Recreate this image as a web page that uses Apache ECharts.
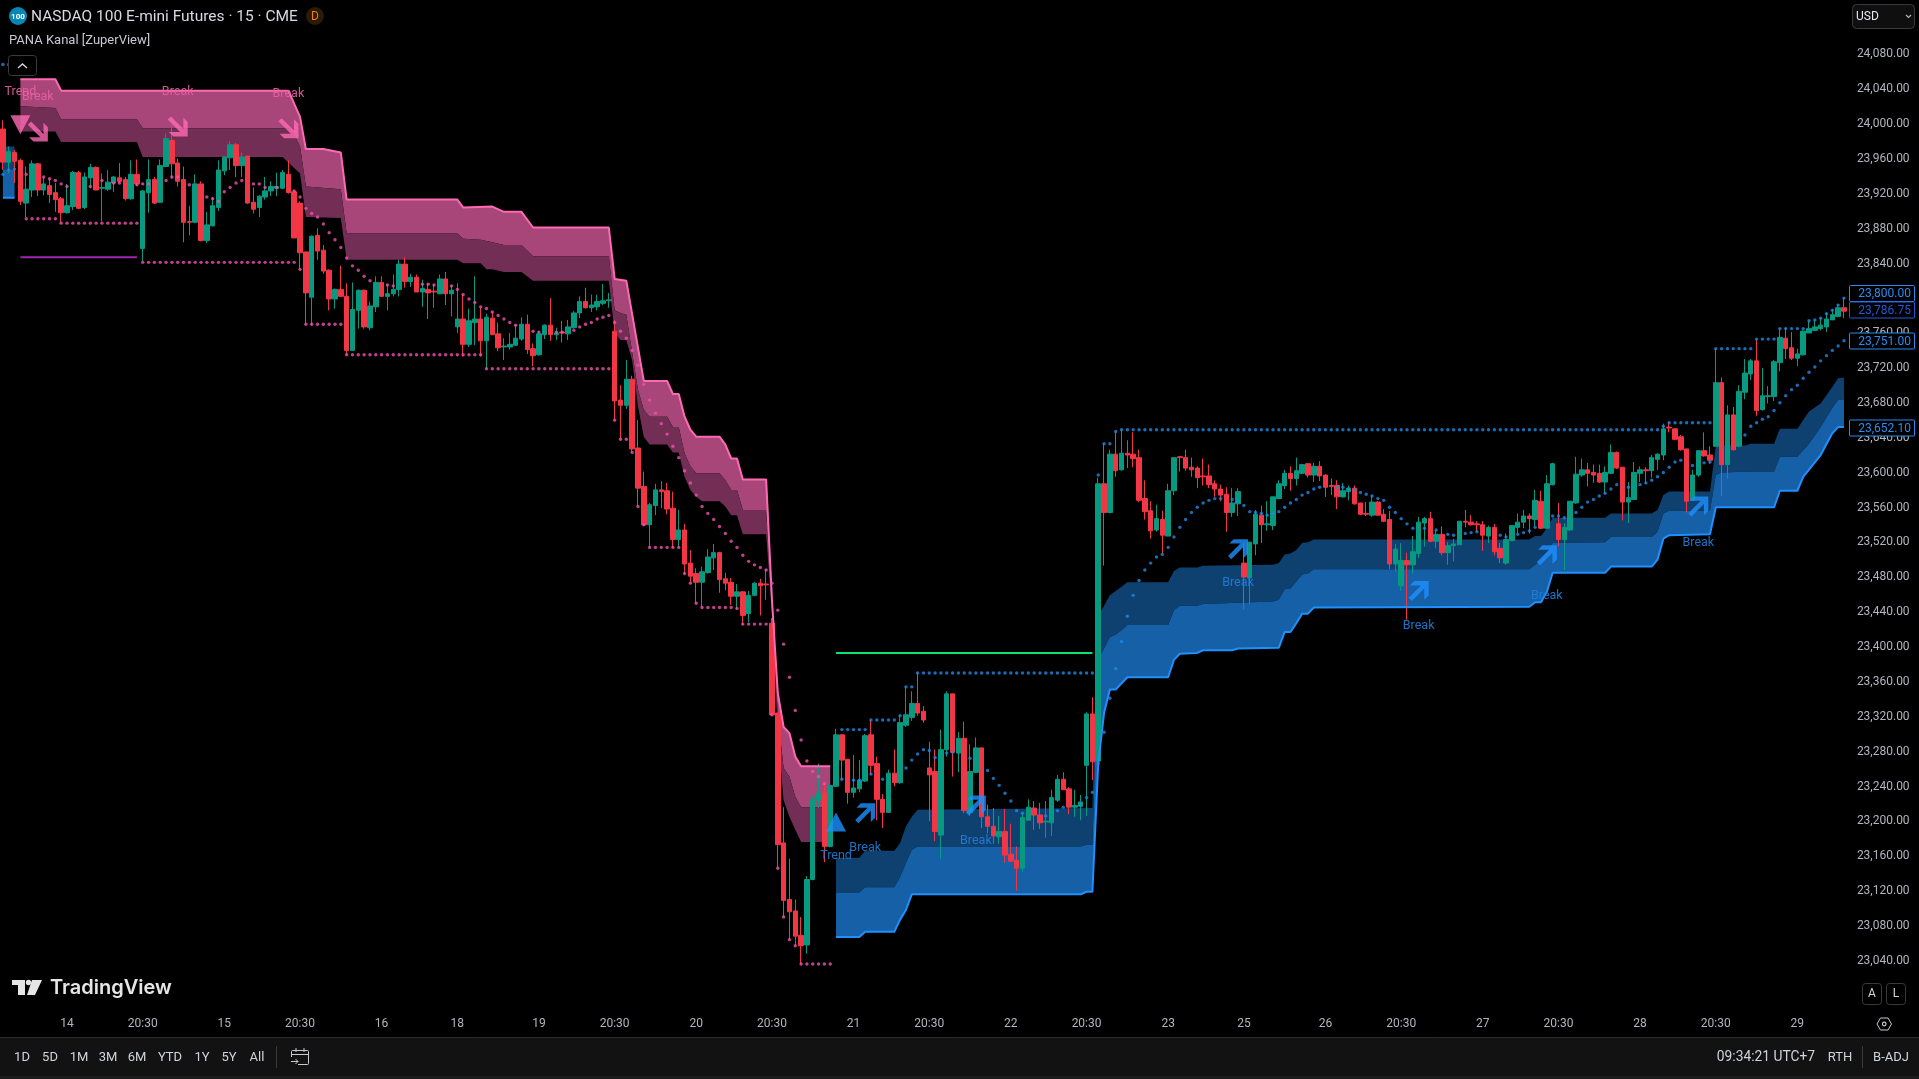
<!DOCTYPE html>
<html><head><meta charset="utf-8">
<style>html,body{margin:0;padding:0;background:#000;overflow:hidden}#c{width:1919px;height:1079px}</style>
<script src="https://cdn.jsdelivr.net/npm/echarts@6/dist/echarts.min.js"></script>
</head><body><div id="c"></div>
<script>
// ---- candle values (one per 15-minute bar) ----
const opens=[
23992,23954,23965,23956,23907,23922,23952,23922,23927,23919,
23912,23896,23903,23942,23902,23936,23948,23924,23923,23930,
23936,23934,23912,23940,23855,23919,23934,23908,23949,23979,
23953,23934,23886,23885,23929,23864,23881,23902,23944,23959,
23974,23950,23961,23908,23902,23914,23921,23924,23924,23940,
23920,23907,23851,23799,23870,23853,23830,23797,23808,23800,
23738,23784,23807,23764,23788,23816,23800,23803,23808,23837,
23817,23822,23805,23808,23806,23803,23820,23803,23765,23774,
23745,23770,23774,23749,23775,23757,23742,23742,23744,23751,
23768,23740,23733,23756,23767,23756,23759,23757,23764,23781,
23794,23787,23788,23792,23795,23760,23681,23675,23705,23626,
23582,23538,23560,23578,23577,23557,23521,23532,23494,23482,
23472,23483,23500,23506,23476,23472,23456,23461,23436,23457,
23471,23470,23425,23322,23173,23108,23095,23067,23056,23131,
23222,23230,23169,23238,23297,23269,23231,23235,23244,23297,
23264,23223,23208,23253,23242,23308,23317,23333,23324,23259,
23255,23182,23280,23344,23276,23293,23208,23254,23282,23203,
23192,23180,23186,23160,23153,23144,23199,23213,23205,23197,
23196,23222,23246,23235,23214,23215,23262,23321,23267,23585,
23552,23619,23601,23620,23619,23615,23568,23554,23532,23544,
23525,23577,23616,23615,23604,23603,23594,23594,23585,23579,
23573,23552,23562,23494,23477,23516,23549,23538,23537,23568,
23583,23597,23591,23597,23608,23595,23605,23595,23583,23583,
23570,23576,23580,23563,23551,23549,23564,23550,23544,23493,
23468,23497,23492,23505,23540,23545,23519,23527,23506,23514,
23515,23542,23541,23539,23538,23525,23535,23511,23494,23520,
23535,23541,23548,23544,23565,23534,23584,23539,23521,23532,
23563,23595,23601,23598,23597,23587,23597,23621,23604,23564,
23567,23597,23601,23600,23613,23618,23650,23648,23639,23625,
23566,23595,23623,23618,23628,23701,23607,23664,23628,23690,
23711,23726,23670,23685,23685,23724,23752,23741,23729,23733,
23758,23761,23763,23765,23773,23777,23787];
const closes=[
23954,23966,23955,23909,23923,23952,23922,23929,23917,23911,
23896,23904,23942,23901,23937,23948,23922,23925,23931,23937,
23932,23912,23940,23929,23921,23934,23907,23950,23981,23952,
23932,23885,23885,23929,23864,23882,23904,23945,23960,23974,
23950,23960,23907,23900,23915,23921,23926,23926,23942,23919,
23867,23850,23804,23869,23852,23829,23797,23808,23800,23738,
23785,23807,23765,23789,23816,23800,23803,23808,23837,23817,
23822,23805,23809,23804,23805,23820,23803,23807,23774,23745,
23772,23774,23749,23776,23756,23741,23743,23745,23752,23768,
23739,23732,23757,23767,23756,23758,23758,23765,23781,23794,
23787,23790,23794,23795,23796,23680,23675,23705,23625,23580,
23538,23561,23578,23576,23556,23521,23532,23493,23479,23472,
23484,23501,23506,23475,23471,23456,23461,23434,23457,23471,
23468,23469,23320,23171,23107,23094,23066,23055,23131,23223,
23230,23169,23239,23297,23268,23231,23236,23245,23296,23262,
23223,23208,23253,23242,23311,23320,23333,23322,23314,23251,
23186,23280,23344,23277,23293,23210,23255,23282,23203,23192,
23181,23186,23159,23152,23144,23202,23214,23205,23196,23198,
23225,23246,23234,23214,23216,23220,23321,23266,23585,23552,
23619,23600,23620,23618,23614,23566,23553,23531,23545,23526,
23577,23615,23615,23603,23601,23592,23593,23584,23579,23572,
23552,23563,23576,23478,23518,23550,23538,23539,23570,23585,
23597,23591,23600,23607,23595,23605,23594,23581,23582,23570,
23577,23580,23562,23550,23550,23564,23549,23542,23493,23510,
23497,23492,23507,23541,23545,23519,23527,23506,23514,23516,
23542,23541,23538,23538,23526,23535,23507,23500,23521,23537,
23541,23548,23545,23566,23534,23585,23608,23521,23535,23565,
23596,23601,23597,23595,23587,23598,23621,23603,23564,23569,
23598,23601,23600,23615,23619,23648,23649,23636,23624,23565,
23595,23623,23617,23612,23701,23607,23664,23624,23691,23712,
23726,23669,23686,23686,23725,23753,23740,23729,23734,23760,
23763,23765,23767,23774,23779,23787,23783];
const lows=[
23945,23941,23930,23905,23891,23914,23915,23916,23907,23897,
23884,23895,23899,23900,23900,23924,23922,23886,23921,23920,
23930,23910,23911,23927,23840,23896,23906,23907,23949,23935,
23926,23862,23870,23884,23863,23861,23880,23898,23939,23945,
23937,23937,23906,23895,23891,23911,23915,23915,23923,23918,
23867,23831,23768,23767,23842,23826,23784,23786,23799,23733,
23738,23763,23763,23761,23782,23800,23784,23800,23800,23810,
23811,23805,23788,23774,23787,23803,23790,23777,23758,23731,
23742,23744,23731,23717,23756,23737,23727,23739,23743,23749,
23734,23720,23732,23751,23749,23750,23747,23750,23763,23775,
23786,23782,23784,23790,23787,23658,23636,23671,23621,23559,
23537,23512,23549,23557,23550,23512,23512,23482,23471,23448,
23443,23482,23486,23460,23463,23446,23441,23423,23426,23456,
23434,23452,23319,23144,23088,23062,23055,23034,23046,23130,
23213,23151,23168,23237,23245,23218,23225,23231,23243,23251,
23199,23190,23208,23238,23241,23306,23313,23319,23311,23198,
23175,23155,23272,23249,23254,23207,23204,23253,23190,23184,
23172,23172,23150,23151,23118,23140,23199,23188,23189,23179,
23181,23220,23234,23206,23203,23199,23204,23245,23267,23491,
23551,23593,23600,23603,23604,23564,23544,23522,23530,23505,
23525,23572,23599,23600,23593,23580,23583,23580,23570,23565,
23530,23547,23548,23441,23447,23503,23517,23531,23532,23567,
23579,23577,23583,23596,23592,23587,23588,23570,23572,23556,
23569,23566,23561,23549,23548,23547,23549,23541,23487,23484,
23462,23429,23482,23500,23513,23518,23511,23503,23492,23496,
23515,23535,23537,23530,23508,23517,23503,23494,23492,23519,
23528,23534,23528,23536,23533,23534,23583,23513,23486,23531,
23562,23593,23582,23586,23586,23574,23596,23602,23543,23540,
23567,23587,23585,23592,23601,23612,23644,23635,23623,23552,
23566,23593,23616,23608,23628,23571,23591,23623,23627,23682,
23704,23663,23669,23677,23680,23714,23728,23727,23720,23732,
23758,23760,23761,23759,23773,23776,23775];
const highs=[
24002,23972,23968,23958,23949,23956,23953,23937,23935,23930,
23914,23929,23944,23944,23942,23952,23949,23941,23945,23938,
23953,23937,23956,23957,23922,23957,23937,23957,23987,24006,
23958,23949,23904,23940,23932,23897,23914,23956,23960,23978,
23976,23965,23961,23925,23916,23937,23932,23942,23945,23956,
23922,23909,23851,23870,23878,23859,23831,23809,23835,23815,
23816,23808,23808,23794,23823,23823,23813,23825,23842,23845,
23826,23825,23819,23815,23814,23825,23828,23812,23815,23803,
23786,23823,23787,23780,23782,23770,23752,23758,23768,23776,
23779,23746,23760,23768,23798,23764,23772,23773,23783,23800,
23810,23802,23802,23814,23804,23773,23698,23727,23709,23658,
23599,23563,23585,23588,23586,23576,23555,23539,23509,23488,
23490,23510,23516,23507,23483,23477,23470,23462,23462,23472,
23476,23487,23431,23322,23214,23155,23108,23088,23135,23227,
23264,23242,23242,23304,23297,23269,23274,23268,23298,23314,
23272,23229,23257,23280,23320,23352,23347,23368,23330,23289,
23280,23303,23347,23344,23300,23312,23286,23294,23282,23217,
23213,23204,23212,23195,23169,23208,23223,23221,23219,23221,
23234,23251,23254,23237,23234,23228,23323,23340,23592,23631,
23624,23645,23647,23635,23644,23624,23589,23565,23561,23554,
23585,23615,23617,23624,23615,23605,23614,23607,23589,23584,
23581,23580,23580,23517,23518,23555,23560,23565,23570,23589,
23601,23605,23615,23608,23609,23609,23611,23596,23591,23589,
23586,23583,23583,23563,23564,23572,23565,23556,23554,23516,
23517,23506,23525,23547,23547,23553,23532,23536,23518,23522,
23542,23555,23549,23542,23542,23537,23539,23517,23528,23537,
23551,23555,23551,23578,23577,23595,23609,23563,23540,23565,
23616,23614,23609,23607,23607,23605,23630,23622,23604,23587,
23610,23605,23604,23618,23620,23654,23656,23649,23641,23625,
23601,23623,23644,23628,23740,23707,23675,23673,23698,23728,
23728,23751,23718,23697,23727,23763,23764,23759,23740,23761,
23772,23773,23775,23781,23785,23791,23798];

// ---- time axis tick labels at their bar index ----
const tickBars=[11,24,38,51,65,78,92,105,119,132,146,159,173,186,200,213,227,240,254,267,281,294,308];
const tickTexts=['14','20:30','15','20:30','16','18','19','20:30','20','20:30','21','20:30','22','20:30','23','25','26','20:30','27','20:30','28','20:30','29'];

// ---- channel edges as [bar, price] ----
const pinkTop=[[3,24049],[9,24049],[10,24036],[49,24036],[51,24006],[52,23969],[55,23969],[58,23965],[59,23911],[78,23911],[79,23902],[84,23903],[86,23897],[89,23897],[91,23879],[104,23879],[105,23820],[107,23818],[110,23703],[114,23703],[115,23688],[116,23688],[117,23662],[118,23647],[119,23639],[123,23639],[124,23630],[125,23614],[126,23614],[127,23590],[131,23590],[132,23452],[133,23345],[134,23306],[135,23299],[136,23272],[137,23261],[142,23261]];
const pinkMid=[[3,24018],[9,24016],[10,24003],[23,24003],[24,23993],[49,23993],[50,23985],[51,23972],[52,23926],[58,23923],[59,23872],[78,23872],[79,23866],[82,23865],[84,23862],[86,23859],[89,23859],[91,23846],[104,23846],[105,23784],[106,23781],[107,23779],[109,23693],[110,23670],[111,23662],[114,23662],[115,23650],[116,23650],[117,23620],[118,23605],[119,23597],[123,23597],[124,23589],[125,23578],[126,23578],[127,23555],[131,23555],[132,23445],[133,23320],[134,23259],[135,23249],[136,23226],[137,23214],[142,23214]];
const pinkBot=[[3,23989],[9,23989],[10,23977],[23,23977],[24,23960],[48,23960],[51,23941],[52,23891],[58,23890],[59,23842],[78,23842],[79,23838],[82,23838],[83,23831],[84,23831],[86,23828],[89,23828],[91,23818],[104,23818],[105,23758],[106,23750],[107,23750],[108,23727],[109,23674],[110,23639],[111,23630],[114,23630],[115,23621],[116,23621],[117,23593],[118,23578],[119,23570],[120,23565],[123,23565],[124,23559],[125,23549],[126,23549],[127,23527],[131,23527],[132,23438],[133,23300],[134,23222],[135,23203],[136,23188],[137,23174],[142,23174]];
const blueTop=[[143,23156],[147,23156],[148,23164],[153,23164],[154,23173],[155,23192],[156,23203],[157,23211],[187,23213],[188,23433],[190,23457],[192,23467],[193,23472],[200,23472],[201,23485],[202,23489],[205,23489],[206,23491],[218,23492],[219,23494],[220,23504],[221,23505],[222,23509],[223,23517],[224,23518],[225,23521],[262,23521],[263,23525],[264,23525],[265,23534],[266,23546],[275,23546],[276,23551],[283,23551],[284,23555],[285,23572],[286,23576],[293,23576],[294,23628],[295,23629],[299,23629],[300,23631],[304,23631],[305,23648],[308,23648],[310,23668],[312,23677],[314,23696],[315,23706],[316,23707]];
const blueMid=[[143,23116],[147,23116],[148,23122],[153,23122],[154,23134],[155,23150],[156,23165],[157,23169],[185,23169],[186,23171],[187,23171],[188,23383],[189,23396],[190,23409],[191,23412],[192,23417],[193,23423],[200,23423],[201,23440],[202,23445],[205,23445],[206,23447],[218,23450],[219,23452],[220,23464],[221,23465],[222,23473],[223,23481],[224,23482],[225,23487],[262,23487],[263,23492],[264,23498],[265,23507],[266,23517],[275,23518],[276,23524],[283,23524],[284,23530],[285,23551],[286,23554],[293,23554],[294,23595],[295,23598],[300,23599],[304,23599],[305,23616],[308,23616],[310,23631],[312,23650],[314,23672],[315,23681],[316,23682]];
const blueBot=[[143,23065],[147,23065],[148,23071],[153,23071],[154,23085],[155,23096],[156,23114],[185,23114],[186,23117],[187,23117],[188,23264],[189,23322],[190,23349],[191,23349],[192,23356],[193,23363],[200,23363],[201,23383],[202,23390],[205,23391],[206,23394],[211,23394],[212,23396],[219,23397],[220,23415],[221,23415],[222,23425],[223,23436],[224,23436],[225,23443],[262,23444],[263,23449],[264,23449],[265,23461],[266,23483],[275,23483],[276,23490],[283,23490],[284,23498],[285,23522],[286,23526],[293,23527],[294,23558],[304,23558],[305,23577],[308,23577],[309,23593],[312,23618],[314,23643],[315,23650],[316,23650]];
const stubTop=[[0,23972],[2,23972]];
const stubMid=[[0,23945],[2,23945]];
const stubBot=[[0,23913],[2,23913]];

// ---- flat dotted levels: [first bar, last bar, price] ----
const pinkLevels=[[4,9,23889],[10,23,23884],[24,50,23839],[51,51,23831],[52,58,23768],[59,82,23733],[83,104,23717],[105,105,23658],[106,107,23636],[108,108,23621],[109,109,23559],[110,110,23538],[111,116,23512],[117,117,23482],[118,118,23471],[119,119,23448],[120,125,23443],[126,126,23442],[127,131,23424],[132,132,23320],[133,133,23144],[134,134,23088],[135,135,23062],[136,136,23055],[137,142,23034]];
const blueLevels=[[0,2,24066],[144,148,23303],[149,153,23314],[154,154,23319],[155,156,23352],[157,187,23368],[188,188,23595],[189,190,23631],[191,191,23645],[192,284,23647],[285,285,23651],[286,293,23655],[294,300,23740],[301,304,23751],[305,309,23763],[310,310,23772],[311,311,23773],[312,312,23775],[313,313,23780],[314,314,23784],[315,315,23790],[316,316,23798]];

// ---- trailing dots: [bar, price] ----
const pinkTrail=[[4,23940],[7,23937],[8,23935],[9,23933],[10,23929],[11,23926],[15,23926],[17,23933],[19,23930],[20,23930],[23,23928],[24,23929],[25,23929],[28,23933],[29,23937],[30,23937],[32,23928],[35,23914],[36,23912],[37,23909],[38,23920],[39,23925],[40,23930],[41,23933],[43,23929],[44,23929],[45,23925],[47,23925],[50,23921],[51,23914],[52,23901],[53,23895],[54,23891],[55,23883],[56,23873],[57,23865],[58,23856],[59,23844],[60,23835],[61,23830],[62,23823],[63,23818],[66,23813],[67,23812],[72,23814],[73,23814],[74,23813],[77,23812],[78,23808],[79,23802],[80,23797],[81,23793],[82,23788],[83,23786],[84,23782],[85,23778],[86,23774],[87,23770],[88,23767],[91,23760],[92,23759],[95,23759],[96,23759],[98,23761],[99,23765],[100,23768],[101,23770],[102,23774],[103,23776],[104,23778],[105,23770],[106,23760],[107,23752],[108,23738],[109,23721],[110,23699],[111,23681],[112,23666],[113,23654],[114,23642],[115,23628],[116,23615],[117,23600],[118,23586],[119,23572],[120,23559],[121,23551],[122,23544],[123,23536],[124,23528],[125,23519],[126,23512],[127,23503],[128,23496],[129,23492],[130,23489],[131,23486],[132,23471],[133,23440],[134,23401],[135,23363],[136,23325],[137,23291],[138,23267],[139,23255],[140,23249],[141,23241]];
const blueTrail=[[0,23940],[1,23945],[2,23946],[144,23246],[146,23245],[147,23245],[149,23252],[151,23246],[155,23259],[156,23268],[157,23275],[158,23280],[159,23279],[160,23271],[162,23276],[163,23277],[166,23270],[169,23256],[170,23247],[171,23239],[172,23230],[173,23221],[174,23210],[175,23207],[179,23204],[181,23210],[182,23214],[185,23217],[186,23225],[187,23231],[188,23264],[189,23300],[190,23339],[191,23373],[192,23404],[193,23433],[194,23457],[195,23474],[196,23486],[197,23494],[198,23501],[199,23504],[200,23512],[201,23524],[202,23535],[203,23544],[204,23552],[205,23558],[206,23563],[207,23566],[208,23568],[209,23568],[211,23567],[212,23565],[213,23560],[214,23553],[215,23552],[216,23551],[217,23549],[218,23551],[219,23553],[220,23558],[221,23563],[222,23567],[223,23572],[224,23575],[225,23579],[226,23581],[229,23581],[230,23581],[231,23579],[232,23578],[233,23575],[234,23573],[235,23571],[236,23568],[237,23566],[238,23558],[239,23552],[240,23545],[241,23539],[242,23534],[244,23534],[246,23532],[248,23527],[249,23526],[251,23528],[252,23529],[253,23530],[257,23526],[258,23524],[260,23527],[261,23529],[262,23531],[263,23535],[266,23548],[267,23548],[268,23546],[270,23552],[271,23558],[272,23564],[273,23567],[274,23571],[275,23574],[276,23579],[277,23584],[279,23581],[281,23584],[282,23586],[283,23589],[284,23593],[285,23598],[286,23604],[287,23610],[288,23612],[290,23606],[292,23609],[293,23610],[299,23641],[300,23651],[301,23655],[302,23659],[303,23662],[304,23669],[305,23678],[306,23686],[307,23693],[308,23698],[309,23706],[310,23713],[311,23719],[312,23726],[313,23732],[314,23738],[315,23743],[316,23749]];

// ---- straight levels ----
const purpleLine=[[3,23845],[23,23845]];
const greenLine=[[143,23391],[187,23391]];

// ---- signals: [bar, price] ----
const pinkArrows=[[6,23989],[30,23995],[49,23993]];
const blueArrows=[[148,23207],[167,23216],[212,23510],[243,23462],[265,23503],[291,23559]];
const pinkTriangle=[[3,23997]];
const blueTriangle=[[143,23197]];
const pinkBreaks=[[6,24030],[30,24036],[49,24034]];
const blueBreaks=[[148,23168],[167,23177],[212,23472],[243,23423],[265,23457],[291,23518]];
const pinkTrend=[[3,24036]];
const blueTrend=[[143,23159]];

// ---- price tags at the right edge ----
const tagTexts=['23,800.00','23,786.75','23,751.00','23,652.10'];
const tagColors=['#2a8cf0','#2458d8','#2a8cf0','#2a8cf0'];
const tagCentres=[293.5,310,341,428];

const RANGE=['1D','5D','1M','3M','6M','YTD','1Y','5Y','All'];
const RANGE_X=[22,50,79,108,137,170,202,229,257];

const FONT='Roboto, "Noto Sans", sans-serif';
const PINK='#ff69b4', BLUE='#1e90ff';
const categories=opens.map(()=> '');
tickBars.forEach((b,k)=>{categories[b]=tickTexts[k];});
const candles=opens.map((o,k)=>[o,closes[k],lows[k],highs[k]]);
const expand=levels=>{const out=[];levels.forEach(l=>{for(let b=l[0];b<=l[1];b++)out.push([b,l[2]]);});return out;};

function bandSeries(name,upper,lower,color){
  return {name,type:'custom',coordinateSystem:'cartesian2d',silent:true,z:1,clip:true,
    data:[[upper[0][0],upper[0][1]]],
    renderItem:(p,api)=>{
      const pts=upper.concat(lower.slice().reverse()).map(d=>api.coord(d));
      return {type:'polygon',shape:{points:pts},style:{fill:color}};
    }};
}
function edge(name,data,color,width){
  return {name,type:'line',data,symbol:'none',silent:true,z:4,lineStyle:{color,width:width||2},animation:false};
}
function dots(name,data,color){
  return {name,type:'scatter',data,symbol:'circle',symbolSize:3.4,silent:true,z:5,itemStyle:{color}};
}
function words(name,data,text,color){
  return {name,type:'scatter',data,symbol:'circle',symbolSize:0.01,silent:true,z:7,
    label:{show:true,position:'inside',offset:[0,1],formatter:text,color,fontFamily:FONT,fontSize:12.5,opacity:0.9}};
}
const ARROW_UP='path://M28 0L100 0L100 72L78 94L78 38L16 100L0 84L62 22L6 22Z';
const ARROW_DOWN='path://M28 100L100 100L100 28L78 6L78 62L16 0L0 16L62 78L6 78Z';
function marks(name,data,symbol,size,color,rot){
  return {name,type:'scatter',data,symbol,symbolSize:size,symbolRotate:rot||0,silent:true,z:6,itemStyle:{color}};
}

// chrome helpers
const T=(text,x,y,font,fill,align)=>({type:'text',z:50,silent:true,style:{text,x,y,font,fill,align:align||'left',verticalAlign:'middle',textAlign:align||'left',textVerticalAlign:'middle'}});
const L=(x1,y1,x2,y2,stroke,w)=>({type:'line',z:50,silent:true,shape:{x1,y1,x2,y2},style:{stroke,lineWidth:w||1}});
const R=(x,y,width,height,fill,stroke,r,z)=>({type:'rect',z:z||49,silent:true,shape:{x,y,width,height,r:r||0},style:{fill:fill||'transparent',stroke:stroke||null,lineWidth:1}});
const PL=(points,stroke,w)=>({type:'polyline',z:50,silent:true,shape:{points},style:{stroke,lineWidth:w||1,fill:'none'}});
const PG=(points,fill,stroke)=>({type:'polygon',z:50,silent:true,shape:{points},style:{fill:fill||'transparent',stroke:stroke||null,lineWidth:1}});
const C=(cx,cy,r,fill,stroke)=>({type:'circle',z:50,silent:true,shape:{cx,cy,r},style:{fill:fill||'transparent',stroke:stroke||null,lineWidth:1.2}});

const gfx=[
  // header
  C(18,16,9,'#0a86b5'),
  T('100',18,16.5,'bold 8px '+FONT,'#ffffff','center'),
  T('NASDAQ 100 E-mini Futures · 15 · CME',31,17,'15.5px '+FONT,'#d8dae0'),
  C(315,16,9,'#2a1b08'),
  T('D',315,16.5,'12px '+FONT,'#f57c00','center'),
  T('PANA Kanal [ZuperView]',9,41,'13px '+FONT,'#c8cad0'),
  R(8.5,55.5,28,20,'#000','#3a3a3a',3),
  PL([[18,68],[22.5,64],[27,68]],'#d1d4dc',1.4),
  // currency box
  R(1852.5,4.5,62,24,'#0f0f0f','#3a3a3a',4),
  T('USD',1856,16.5,'12px '+FONT,'#e6e8ee'),
  PL([[1906,15],[1908.5,17.5],[1911,15]],'#b2b5be',1.2),
  // logo
  PG([[12,980],[25,980],[25,985],[31,985],[25,985],[25,995],[18,995],[18,985],[12,985]],'#e6e6e6'),
  C(28.5,982.5,2.7,'#e6e6e6'),
  PG([[32,980],[42,980],[35,995],[27,995]],'#e6e6e6'),
  T('TradingView',50,988,'600 20px Inter, '+FONT,'#e6e6e6'),
  // A / L / settings
  R(1862.5,983.5,19,21,'#000','#3a3a3a',3),
  T('A',1872,994,'12px '+FONT,'#d1d4dc','center'),
  R(1886.5,983.5,19,21,'#000','#3a3a3a',3),
  T('L',1896,994,'12px '+FONT,'#d1d4dc','center'),
  PG([[1877,1024],[1880.5,1018],[1888,1018],[1891.5,1024],[1888,1030],[1880.5,1030]],null,'#c8cad0'),
  C(1884.2,1024,1.8,null,'#c8cad0'),
  // bottom toolbar
  R(0,1037,1919,39,'#121212',null,0,48),
  L(0,1037.5,1919,1037.5,'#2b2b2b'),
  R(0,1076,1919,3,'#1c1c1c',null,0,48),
  L(276.5,1046,276.5,1068,'#3a3a3a'),
  R(291.5,1050.5,17,14,'transparent','#c8cad0',1),
  L(291,1054.5,309,1054.5,'#c8cad0'),
  R(289,1057,9,9,'#121212',null,0,50),
  L(291,1061.5,298,1061.5,'#c8cad0'),
  PL([[295.5,1059],[298,1061.5],[295.5,1064]],'#c8cad0'),
  L(296,1048,296,1052,'#c8cad0'),
  L(304,1048,304,1052,'#c8cad0'),
  T('09:34:21 UTC+7',1815,1058,'13.8px '+FONT,'#d1d4dc','right'),
  T('RTH',1840,1058,'13px '+FONT,'#d1d4dc','center'),
  L(1862.5,1046,1862.5,1068,'#3a3a3a'),
  T('B-ADJ',1891,1058,'13px '+FONT,'#d1d4dc','center')
];
RANGE.forEach((t,k)=>gfx.push(T(t,RANGE_X[k],1058,'13px '+FONT,'#d1d4dc','center')));
tagTexts.forEach((t,k)=>{
  gfx.push(R(1849.5,tagCentres[k]-8,65,16,'#000',tagColors[k],1,60));
  const txt=T(t,1911,tagCentres[k]+0.5,'12px '+FONT,tagColors[k],'right');txt.z=61;gfx.push(txt);
});

const chart=echarts.init(document.getElementById('c'),null,{renderer:'canvas',width:1919,height:1079});
chart.setOption({
  animation:false,backgroundColor:'#000',
  textStyle:{fontFamily:FONT},
  grid:{left:-0.6,top:0,width:1847.48,height:993.7,containLabel:false},
  xAxis:{type:'category',data:categories,boundaryGap:true,
    axisLine:{show:false},axisTick:{show:false},splitLine:{show:false},
    axisLabel:{show:true,interval:(i,v)=>v!=='',hideOverlap:false,color:'#b2b5be',fontFamily:FONT,fontSize:12,margin:24}},
  yAxis:{type:'value',position:'right',min:23000,max:24140,interval:40,scale:true,
    axisLine:{show:false},axisTick:{show:false},splitLine:{show:false},
    axisLabel:{color:'#b2b5be',fontFamily:FONT,fontSize:12,margin:10,verticalAlign:'top',lineHeight:4,
      formatter:v=>(v<23040||v>24080)?'':v.toLocaleString('en-US',{minimumFractionDigits:2,maximumFractionDigits:2})}},
  graphic:{elements:gfx},
  series:[
    bandSeries('pink upper',pinkTop,pinkMid,'#a8467a'),
    bandSeries('pink lower',pinkMid,pinkBot,'#722e55'),
    bandSeries('blue upper',blueTop,blueMid,'#0f4170'),
    bandSeries('blue lower',blueMid,blueBot,'#1660a8'),
    bandSeries('stub upper',stubTop,stubMid,'#0f4170'),
    bandSeries('stub lower',stubMid,stubBot,'#1660a8'),
    {name:'NQ',type:'candlestick',data:candles,barWidth:5,silent:true,z:3,
      itemStyle:{color:'#089981',color0:'#f23645',borderColor:'#089981',borderColor0:'#f23645',borderWidth:1}},
    edge('pink edge',pinkTop,PINK),
    edge('blue edge',blueBot,BLUE),
    edge('stub edge',stubBot,BLUE),
    edge('purple level',purpleLine,'#9c27b0'),
    edge('green level',greenLine,'#00e676'),
    dots('pink levels',expand(pinkLevels),'#f050ae'),
    dots('pink trail',pinkTrail,'#f050ae'),
    dots('blue levels',expand(blueLevels),'#1e88e5'),
    dots('blue trail',blueTrail,'#1e88e5'),
    marks('pink arrows',pinkArrows,ARROW_DOWN,20,PINK),
    marks('blue arrows',blueArrows,ARROW_UP,20,BLUE),
    marks('pink trend mark',pinkTriangle,'triangle',[20,19],PINK,180),
    marks('blue trend mark',blueTriangle,'triangle',[20,19],BLUE),
    words('pink break',pinkBreaks,'Break','#e8629f'),
    words('blue break',blueBreaks,'Break','#1f7fdb'),
    words('pink trend',pinkTrend,'Trend','#e8629f'),
    words('blue trend',blueTrend,'Trend','#1f7fdb')
  ]
});
</script></body></html>
